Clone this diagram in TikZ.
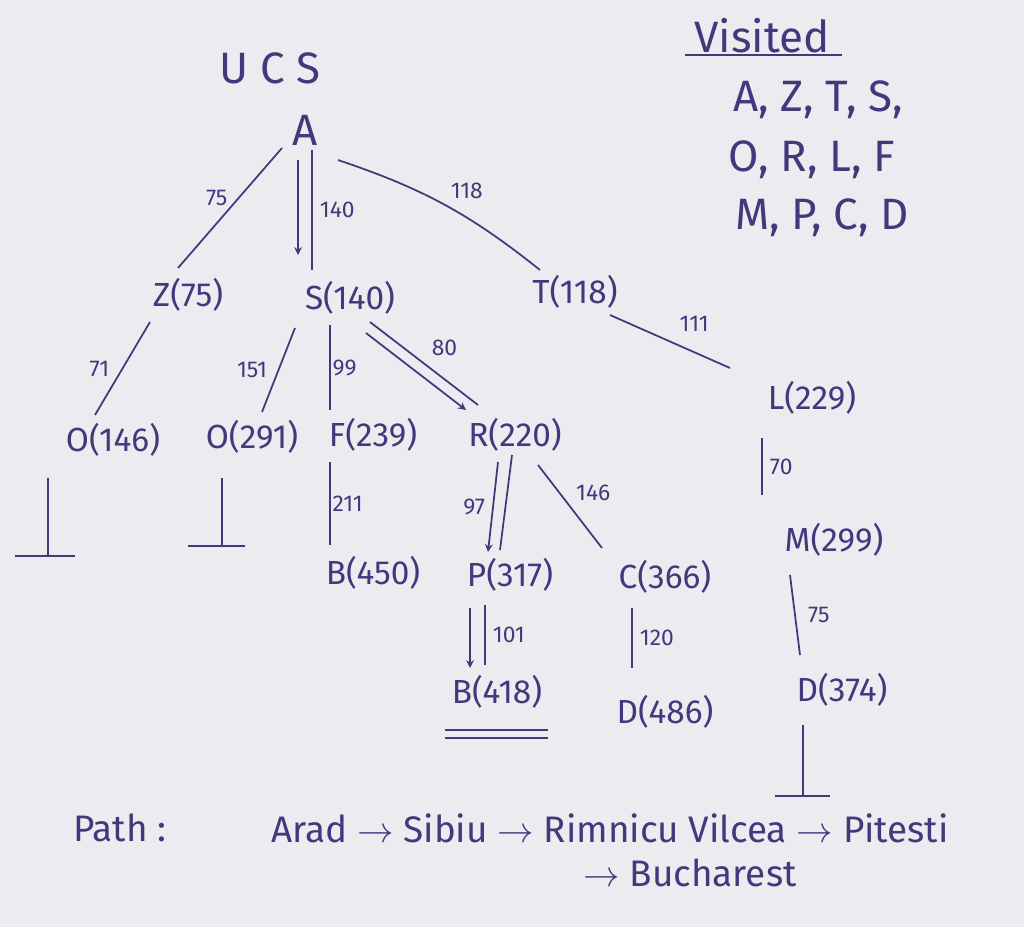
\documentclass[tikz,border=0pt]{standalone}
\usepackage{fontspec}
\setmainfont{Fira Sans}
\definecolor{ink}{RGB}{70,55,125}
\definecolor{paper}{RGB}{236,236,240}
\begin{document}
\begin{tikzpicture}[x=0.02cm,y=-0.02cm,
  every node/.style={text=ink,font=\fontsize{19}{22}\selectfont,inner sep=3pt},
  big/.style={font=\fontsize{25}{28}\selectfont},
  lbl/.style={font=\fontsize{13}{15}\selectfont,inner sep=1pt},
  ed/.style={draw=ink,line width=1pt},
  arr/.style={draw=ink,line width=1pt,-stealth}]
\fill[paper] (0,0) rectangle (1024,927);
\useasboundingbox (0,0) rectangle (1024,927);
\node[big] (ucs) at (270,68) {U C S};
\node[big] (vis) at (762,36) {Visited};
\draw[ed] (685,55) -- (842,55);
\node[big] (v1) at (818,100) {A, Z, T, S,};
\node[big] (v2) at (812,160) {O, R, L, F};
\node[big] (v3) at (822,218) {M, P, C, D};
\node[big] (A) at (305,130) {A};
\node (Z) at (188,295) {Z(75)};
\node (S) at (350,298) {S(140)};
\node (T) at (575,292) {T(118)};
\node (O1) at (113,440) {O(146)};
\node (O2) at (252,437) {O(291)};
\node (F) at (373,435) {F(239)};
\node (R) at (515,435) {R(220)};
\node (L) at (812,398) {L(229)};
\node (B1) at (373,573) {B(450)};
\node (P) at (510,575) {P(317)};
\node (C) at (665,577) {C(366)};
\node (M) at (834,540) {M(299)};
\node (B2) at (497,692) {B(418)};
\node (D1) at (665,712) {D(486)};
\node (D2) at (842,690) {D(374)};
% edges
\draw[ed] (282,148) -- node[lbl,above left] {75} (178,268);
\draw[ed] (312,150) -- node[lbl,right=3pt] {140} (312,270);
\draw[arr] (298,160) -- (298,255);
\draw[ed] (338,160) to[bend left=10] node[lbl,above right=2pt] {118} (540,270);
\draw[ed] (150,322) -- node[lbl,left=6pt] {71} (95,415);
\draw[ed] (295,328) -- node[lbl,left=5pt] {151} (262,412);
\draw[ed] (330,325) -- node[lbl,right] {99} (330,410);
\draw[ed] (370,322) -- node[lbl,above right=3pt] {80} (478,405);
\draw[arr] (366,333) -- (466,410);
\draw[ed] (610,315) -- node[lbl,above right=4pt] {111} (730,368);
\draw[ed] (330,462) -- node[lbl,right] {211} (330,545);
\draw[ed] (512,455) -- (500,550);
\draw[arr] (498,462) -- node[lbl,left=3pt] {97} (488,552);
\draw[ed] (538,465) -- node[lbl,above right=2pt] {146} (602,548);
\draw[ed] (762,438) -- node[lbl,right=3pt] {70} (762,495);
\draw[ed] (790,575) -- node[lbl,right=6pt] {75} (800,655);
\draw[ed] (485,605) -- node[lbl,right=3pt] {101} (485,665);
\draw[arr] (470,608) -- (470,668);
\draw[ed] (632,608) -- node[lbl,right=3pt] {120} (632,668);
% dead ends
\draw[ed] (48,478) -- (48,555);
\draw[ed] (15,556) -- (75,556);
\draw[ed] (222,478) -- (222,545);
\draw[ed] (188,546) -- (245,546);
\draw[ed] (803,725) -- (803,795);
\draw[ed] (775,796) -- (830,796);
\draw[ed] (445,730) -- (548,730);
\draw[ed] (445,738) -- (548,738);
% path
\node[font=\fontsize{21}{24}\selectfont] (path) at (120,828) {Path :};
\node[font=\fontsize{21}{24}\selectfont] (p1) at (610,828) {Arad $\rightarrow$ Sibiu $\rightarrow$ Rimnicu Vilcea $\rightarrow$ Pitesti};
\node[font=\fontsize{21}{24}\selectfont] (p2) at (690,873) {$\rightarrow$ Bucharest};
\end{tikzpicture}
\end{document}
